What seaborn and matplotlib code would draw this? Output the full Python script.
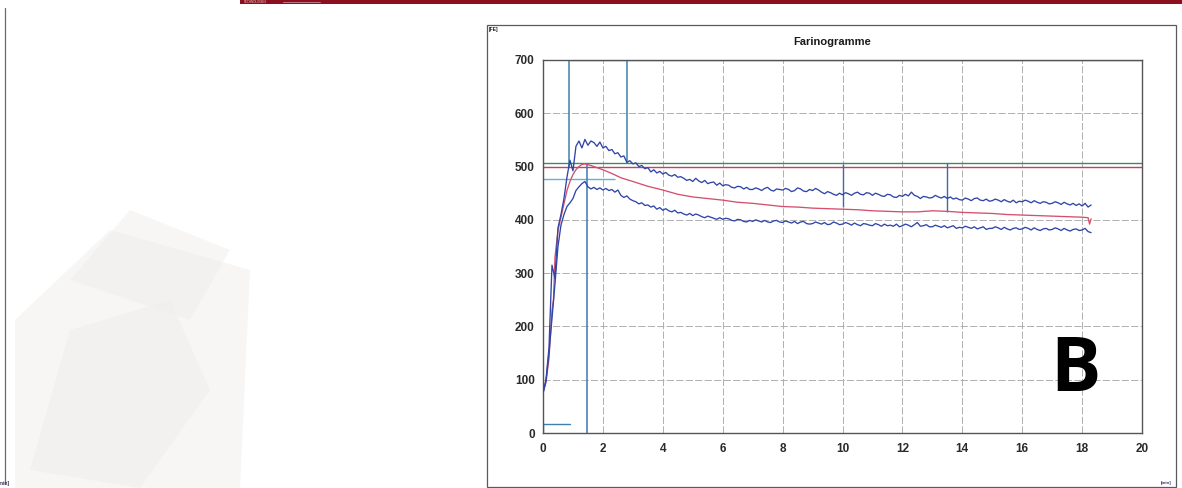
import numpy as np
import pandas as pd
import matplotlib
matplotlib.use("Agg")
import matplotlib.pyplot as plt
from matplotlib.patches import Rectangle, Polygon
from matplotlib.lines import Line2D
import seaborn as sns

# ---------------- data ----------------
# consistency (FE) sampled every 0.1 min, one row per minute
upper_band = [
    75, 100, 160, 315, 290, 385, 410, 440, 480, 512,
    492, 538, 548, 535, 551, 540, 548, 545, 538, 546,
    535, 538, 530, 532, 524, 526, 518, 520, 508, 511,
    505, 507, 500, 502, 496, 498, 490, 494, 488, 491,
    486, 489, 484, 482, 485, 480, 481, 478, 474, 476,
    472, 478, 473, 470, 474, 468, 470, 471, 465, 469,
    464, 466, 465, 461, 460, 463, 462, 458, 461, 457,
    457, 460, 458, 455, 459, 461, 456, 454, 458, 457,
    456, 459, 457, 453, 455, 460, 458, 454, 453, 457,
    455, 459, 456, 452, 449, 453, 451, 448, 446, 450,
    447, 451, 449, 446, 450, 452, 448, 447, 451, 450,
    446, 450, 448, 445, 444, 448, 447, 443, 442, 446,
    444, 448, 445, 452, 446, 444, 440, 444, 443, 441,
    442, 446, 443, 441, 444, 440, 443, 439, 441, 438,
    437, 441, 439, 436, 440, 441, 437, 436, 439, 435,
    436, 439, 437, 434, 438, 435, 433, 437, 432, 435,
    434, 437, 435, 432, 436, 433, 431, 434, 433, 430,
    431, 434, 432, 429, 433, 430, 428, 431, 427, 430,
    426, 431, 424, 428,
]
lower_band = [
    75, 98, 150, 215, 280, 350, 390, 410, 425, 432,
    440, 455, 462, 468, 472, 462, 458, 461, 457, 460,
    456, 459, 455, 457, 452, 456, 446, 442, 445, 439,
    436, 434, 430, 432, 427, 428, 424, 426, 420, 423,
    418, 421, 417, 415, 418, 413, 414, 411, 409, 412,
    408, 411, 409, 406, 404, 407, 405, 403, 401, 404,
    401, 403, 402, 399, 398, 401, 400, 397, 396, 399,
    397, 400, 398, 396, 399, 396, 395, 398, 399, 396,
    395, 398, 396, 394, 397, 393, 396, 397, 393, 392,
    393, 396, 394, 392, 395, 391, 392, 396, 394, 391,
    392, 395, 393, 390, 394, 391, 389, 393, 392, 390,
    389, 393, 391, 388, 392, 389, 390, 388, 392, 387,
    389, 392, 390, 387, 391, 395, 388, 389, 391, 387,
    387, 390, 388, 386, 389, 385, 387, 389, 384, 386,
    385, 388, 386, 384, 387, 383, 385, 387, 382, 384,
    384, 387, 385, 382, 386, 383, 381, 384, 385, 382,
    383, 386, 384, 381, 385, 382, 380, 383, 384, 381,
    382, 385, 383, 380, 384, 381, 379, 382, 383, 380,
    381, 384, 378, 376,
]
band_time = np.round(np.arange(len(upper_band)) * 0.1, 1)

# mean curve (FE)
mean_time = [0, 0.1, 0.2, 0.3, 0.35, 0.4, 0.5, 0.6, 0.7, 0.8, 0.9, 1.0, 1.1,
             1.2, 1.3, 1.4, 1.6, 1.8, 2.0, 2.3, 2.6, 3.0, 3.5, 4.0, 4.5, 5.0,
             5.5, 6.0, 6.5, 7.0, 7.5, 8.0, 8.5, 9.0, 9.5, 10.0, 10.5, 11.0,
             11.5, 12.0, 12.5, 13.0, 13.5, 14.0, 14.5, 15.0, 15.5, 16.0, 16.5,
             17.0, 17.5, 18.0, 18.2, 18.25, 18.3]
mean_curve = [75, 95, 140, 230, 250, 330, 380, 405, 430, 455, 472, 485, 494,
              500, 504, 505, 502, 498, 494, 487, 479, 472, 463, 456, 448, 443,
              440, 437, 433, 431, 428, 425, 424, 422, 421, 420, 419, 417,
              416, 415, 415, 417, 416, 414, 413, 412, 410, 409, 408,
              407, 406, 405, 404, 392, 402]

# reference levels: (value, x start, x end)
line_500 = (500, 0, 20)
line_506 = (506, 0, 20)
line_477 = (477, 0, 2.4)
line_700 = (700, 0.9, 20)
# time markers: (time, y start, y end)
markers_top = [(0.87, 500, 700), (2.8, 505, 700)]
marker_peak = (1.48, 0, 507)
markers_drop = [(10.0, 505, 425), (13.5, 506, 415)]
start_mark_x = [0, 0, 0.9]
start_mark_y = [0, 17, 17]

x_ticks = list(range(0, 21, 2))
y_ticks = list(range(0, 701, 100))

# ---------------- style ----------------
sns.set_style("white")
plt.rcParams["font.family"] = ["Liberation Sans", "DejaVu Sans"]

fig = plt.figure(figsize=(11.82, 4.88), dpi=100)
W, H = 1182, 488

def fx(px):
    return px / W

def fy(py):
    return 1 - py / H

# faint background on the left part of the page
for pts, col, a in [
    ([(15, 488), (15, 320), (110, 230), (250, 270), (240, 488)], "#f3f1ef", 0.6),
    ([(30, 470), (70, 330), (170, 300), (210, 390), (140, 488)], "#efecea", 0.45),
    ([(70, 280), (130, 210), (230, 250), (190, 320)], "#f1eeec", 0.5),
]:
    fig.add_artist(Polygon([(fx(a_), fy(b_)) for a_, b_ in pts],
                           closed=True, transform=fig.transFigure,
                           facecolor=col, edgecolor="none", alpha=a, zorder=0))

# neighbouring panel edge and header bar
fig.add_artist(Line2D([fx(5), fx(5)], [fy(8), fy(484)], transform=fig.transFigure,
                      color="#6a6a6a", lw=0.9))
fig.text(fx(10), fy(484), "[min]", ha="right", va="center", fontsize=3.5,
         fontweight="bold", color="#333355")
fig.add_artist(Rectangle((fx(240), fy(3.5)), fx(942), 3.5 / H,
                         transform=fig.transFigure, facecolor="#8c0f1f",
                         edgecolor="none", zorder=3))
fig.text(fx(244), fy(1.8), "TECHNOLOGIES", ha="left", va="center", fontsize=2.2,
         color="#e9c9cc", zorder=4)
fig.add_artist(Line2D([fx(283), fx(320)], [fy(2.2), fy(2.2)], transform=fig.transFigure,
                      color="#c98a93", lw=0.6, zorder=4))

# outer frame of the chart sheet
fig.add_artist(Rectangle((fx(487), fy(487)), fx(1176 - 487), (487 - 25) / H,
                         transform=fig.transFigure, facecolor="none",
                         edgecolor="#5a5a5a", lw=0.9))
fig.text(fx(489), fy(30), "[FE]", ha="left", va="center", fontsize=3.5,
         fontweight="bold", color="#222222")
fig.text(fx(1166), fy(483), "[min]", ha="center", va="center", fontsize=3.2,
         fontweight="bold", color="#3a3a6a")

ax = fig.add_axes([fx(543), fy(433), fx(1142 - 543), (433 - 60) / H])

# grid
ax.set_xlim(0, 20)
ax.set_ylim(0, 700)
ax.set_xticks(x_ticks)
ax.set_yticks(y_ticks)
ax.grid(True, color="#ababab", lw=0.65, linestyle=(0, (8, 2.5)))
ax.set_axisbelow(True)

# reference lines
ax.hlines(line_506[0], line_506[1], line_506[2], color="#3f8a66", lw=1.0, zorder=2)
ax.hlines(line_500[0], line_500[1], line_500[2], color="#c24260", lw=1.0, zorder=2)
ax.hlines(line_477[0], line_477[1], line_477[2], color="#5ab6d6", lw=1.0, zorder=2)
ax.hlines(line_700[0], line_700[1], line_700[2], color="#c0608a", lw=1.0, zorder=2)
for t, y0, y1 in markers_top:
    ax.vlines(t, y0, y1, color="#3d82ad", lw=1.1, zorder=2)
ax.vlines(marker_peak[0], marker_peak[1], marker_peak[2], color="#3d78b5", lw=1.1, zorder=2)
for t, y0, y1 in markers_drop:
    ax.vlines(t, y0, y1, color="#3a6aa8", lw=1.0, zorder=2)
ax.plot(start_mark_x, start_mark_y, color="#3d82ad", lw=1.0, zorder=2)

# curves
band = pd.DataFrame({"t": band_time, "upper": upper_band, "lower": lower_band})
sns.lineplot(data=band, x="t", y="upper", ax=ax, color="#2f45a8", lw=0.95,
             estimator=None, sort=False, zorder=4)
sns.lineplot(data=band, x="t", y="lower", ax=ax, color="#2f45a8", lw=0.95,
             estimator=None, sort=False, zorder=4)
sns.lineplot(x=mean_time, y=mean_curve, ax=ax, color="#d4506e", lw=0.95,
             estimator=None, sort=False, zorder=3)

ax.set_xlabel("")
ax.set_ylabel("")
ax.set_title("Farinogramme", fontsize=8, fontweight="bold", color="#1a1a1a",
             pad=11, x=0.482)

for s in ax.spines.values():
    s.set_visible(True)
    s.set_color("#555555")
    s.set_linewidth(1.0)

ax.tick_params(axis="both", length=0, labelsize=8.5, colors="#2a2a2a")
ax.tick_params(axis="x", pad=7)
ax.tick_params(axis="y", pad=6)
for lab in ax.get_xticklabels() + ax.get_yticklabels():
    lab.set_fontweight("bold")

ax.text(17.77, 116, "B", ha="center", va="center", fontsize=54,
        fontweight="bold", color="black", family=["Open Sans", "DejaVu Sans"])

fig.savefig("out.png", dpi=100)
